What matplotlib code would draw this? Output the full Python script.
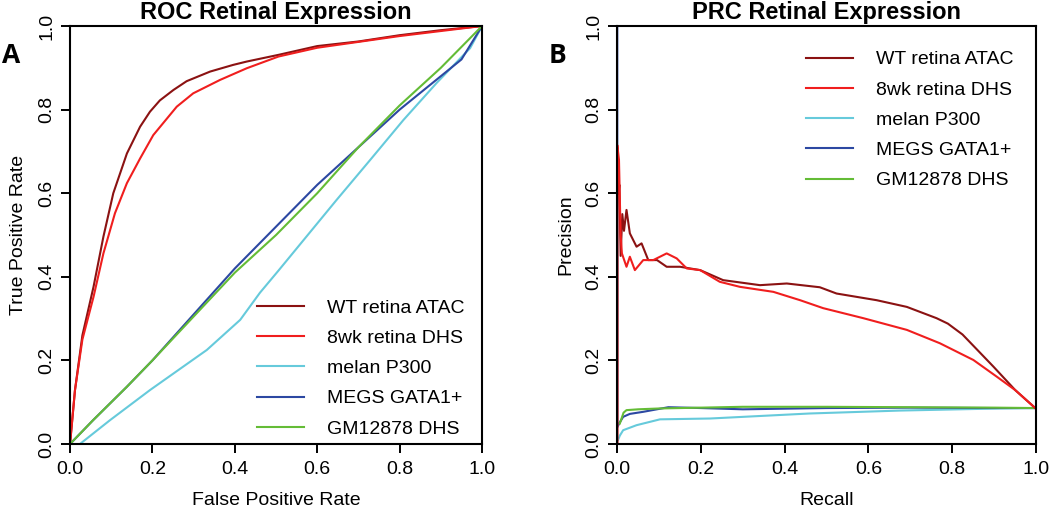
import matplotlib
matplotlib.use("Agg")
import matplotlib.pyplot as plt

plt.rcParams['font.family'] = ['Liberation Sans', 'DejaVu Sans']

# ---------------- data ----------------
labels = ["WT retina ATAC", "8wk retina DHS", "melan P300", "MEGS GATA1+", "GM12878 DHS"]
colors = ["#8B1212", "#F01E1E", "#66CADB", "#2C48A2", "#64BC36"]

# ROC curves (False Positive Rate, True Positive Rate)
roc_wt_x = [0, 0.012, 0.03, 0.057, 0.081, 0.105, 0.138, 0.170, 0.194, 0.218, 0.251, 0.283, 0.340, 0.396, 0.429, 0.506, 0.6, 0.7, 0.8, 0.9, 1.0]
roc_wt_y = [0, 0.129, 0.26, 0.376, 0.496, 0.600, 0.695, 0.759, 0.795, 0.822, 0.847, 0.868, 0.891, 0.907, 0.915, 0.931, 0.952, 0.963, 0.978, 0.990, 1.0]
roc_dhs_x = [0, 0.012, 0.03, 0.057, 0.081, 0.109, 0.138, 0.170, 0.202, 0.259, 0.299, 0.364, 0.429, 0.506, 0.6, 0.7, 0.8, 0.9, 1.0]
roc_dhs_y = [0, 0.129, 0.25, 0.352, 0.456, 0.552, 0.624, 0.683, 0.739, 0.807, 0.839, 0.871, 0.899, 0.927, 0.948, 0.962, 0.976, 0.988, 1.0]
roc_p300_x = [0.024, 0.097, 0.194, 0.332, 0.413, 0.461, 0.506, 0.647, 0.728, 0.809, 0.890, 0.971, 1.0]
roc_p300_y = [0, 0.057, 0.129, 0.225, 0.297, 0.362, 0.415, 0.584, 0.679, 0.775, 0.864, 0.947, 1.0]
roc_megs_x = [0, 0.056, 0.138, 0.2, 0.3, 0.4, 0.5, 0.6, 0.7, 0.8, 0.9, 0.95, 1.0]
roc_megs_y = [0, 0.057, 0.137, 0.2, 0.31, 0.42, 0.52, 0.62, 0.71, 0.80, 0.88, 0.92, 1.0]
roc_gm_x = [0, 0.056, 0.138, 0.2, 0.3, 0.4, 0.5, 0.6, 0.7, 0.8, 0.9, 0.95, 1.0]
roc_gm_y = [0, 0.057, 0.137, 0.2, 0.305, 0.41, 0.50, 0.60, 0.71, 0.81, 0.90, 0.95, 1.0]

# PRC curves (Recall, Precision)
prc_wt_x = [0, 0, 0.003, 0.005, 0.008, 0.012, 0.016, 0.022, 0.030, 0.046, 0.058, 0.074, 0.095, 0.118, 0.150, 0.198, 0.253, 0.341, 0.405, 0.484, 0.524, 0.620, 0.692, 0.763, 0.790, 0.825, 0.851, 0.899, 0.951, 1.0]
prc_wt_y = [0, 0.67, 0.60, 0.62, 0.45, 0.55, 0.51, 0.56, 0.504, 0.472, 0.48, 0.44, 0.44, 0.424, 0.424, 0.416, 0.392, 0.380, 0.384, 0.375, 0.360, 0.344, 0.328, 0.301, 0.288, 0.262, 0.235, 0.185, 0.129, 0.085]
prc_dhs_x = [0, 0, 0.004, 0.008, 0.011, 0.022, 0.030, 0.042, 0.062, 0.086, 0.118, 0.142, 0.166, 0.198, 0.245, 0.293, 0.373, 0.437, 0.492, 0.588, 0.692, 0.771, 0.851, 0.907, 0.951, 1.0]
prc_dhs_y = [0, 0.715, 0.68, 0.50, 0.456, 0.424, 0.448, 0.416, 0.440, 0.440, 0.456, 0.444, 0.420, 0.416, 0.388, 0.376, 0.364, 0.344, 0.325, 0.301, 0.273, 0.241, 0.201, 0.161, 0.129, 0.085]
prc_p300_x = [0.002, 0.006, 0.014, 0.046, 0.102, 0.222, 0.341, 0.46, 0.676, 0.915, 1.0]
prc_p300_y = [0.01, 0.02, 0.033, 0.045, 0.059, 0.061, 0.067, 0.073, 0.080, 0.085, 0.086]
prc_megs_x = [0, 0, 0.005, 0.014, 0.030, 0.062, 0.122, 0.2, 0.3, 0.5, 0.7, 0.9, 1.0]
prc_megs_y = [1.0, 0.04, 0.05, 0.065, 0.072, 0.077, 0.088, 0.086, 0.083, 0.086, 0.087, 0.086, 0.086]
prc_gm_x = [0.006, 0.015, 0.022, 0.05, 0.1, 0.2, 0.3, 0.5, 0.7, 0.9, 1.0]
prc_gm_y = [0.049, 0.075, 0.081, 0.083, 0.085, 0.087, 0.089, 0.089, 0.088, 0.087, 0.086]

ticks = [0.0, 0.2, 0.4, 0.6, 0.8, 1.0]
tick_labels = ["0.0", "0.2", "0.4", "0.6", "0.8", "1.0"]

# ---------------- figure ----------------
fig = plt.figure(figsize=(10.5, 5.09), dpi=100)
ax1 = fig.add_axes([0.0667, 0.1277, 0.3924, 0.8212])
ax2 = fig.add_axes([0.5879, 0.1277, 0.3985, 0.8212])

LW = 1.5

def style(ax, title, xlabel, ylabel, letter):
    ax.set_xlim(0, 1)
    ax.set_ylim(0, 1)
    ax.set_xticks(ticks)
    ax.set_xticklabels(tick_labels)
    ax.set_yticks(ticks)
    ax.set_yticklabels(tick_labels, rotation=90, va='center')
    ax.tick_params(direction='out', length=6.5, width=1.4, labelsize=14, pad=4, colors='black')
    ax.tick_params(axis='x', pad=6)
    for s in ax.spines.values():
        s.set_linewidth(1.5)
    ax.set_title(title, fontsize=17, fontweight='bold', pad=5)
    ax.set_xlabel(xlabel, fontsize=14, labelpad=10)
    ax.set_ylabel(ylabel, fontsize=14, labelpad=8)
    ax.text(-0.165, 0.93, letter, transform=ax.transAxes, fontsize=19,
            fontweight='bold', family=['Open Sans', 'DejaVu Sans'], ha='left', va='center')

# ROC panel
h = []
h.append(ax1.plot(roc_wt_x, roc_wt_y, color=colors[0], lw=LW)[0])
h.append(ax1.plot(roc_dhs_x, roc_dhs_y, color=colors[1], lw=LW)[0])
h.append(ax1.plot(roc_p300_x, roc_p300_y, color=colors[2], lw=LW)[0])
h.append(ax1.plot(roc_megs_x, roc_megs_y, color=colors[3], lw=LW)[0])
h.append(ax1.plot(roc_gm_x, roc_gm_y, color=colors[4], lw=LW)[0])
style(ax1, "ROC Retinal Expression", "False Positive Rate", "True Positive Rate", "A")
ax1.legend(h, labels, loc='center left', bbox_to_anchor=(0.454, 0.181), frameon=False,
           fontsize=14, handlelength=2.4, handletextpad=1.2, labelspacing=0.65,
           borderpad=0, borderaxespad=0)

# PRC panel
g = [None] * 5
g[2] = ax2.plot(prc_p300_x, prc_p300_y, color=colors[2], lw=LW)[0]
g[3] = ax2.plot(prc_megs_x, prc_megs_y, color=colors[3], lw=LW)[0]
g[4] = ax2.plot(prc_gm_x, prc_gm_y, color=colors[4], lw=LW)[0]
g[0] = ax2.plot(prc_wt_x, prc_wt_y, color=colors[0], lw=LW)[0]
g[1] = ax2.plot(prc_dhs_x, prc_dhs_y, color=colors[1], lw=LW)[0]
style(ax2, "PRC Retinal Expression", "Recall", "Precision", "B")
ax2.legend(g, labels, loc='center left', bbox_to_anchor=(0.452, 0.775), frameon=False,
           fontsize=14, handlelength=2.4, handletextpad=1.2, labelspacing=0.65,
           borderpad=0, borderaxespad=0)

fig.savefig("out.png", dpi=100)
